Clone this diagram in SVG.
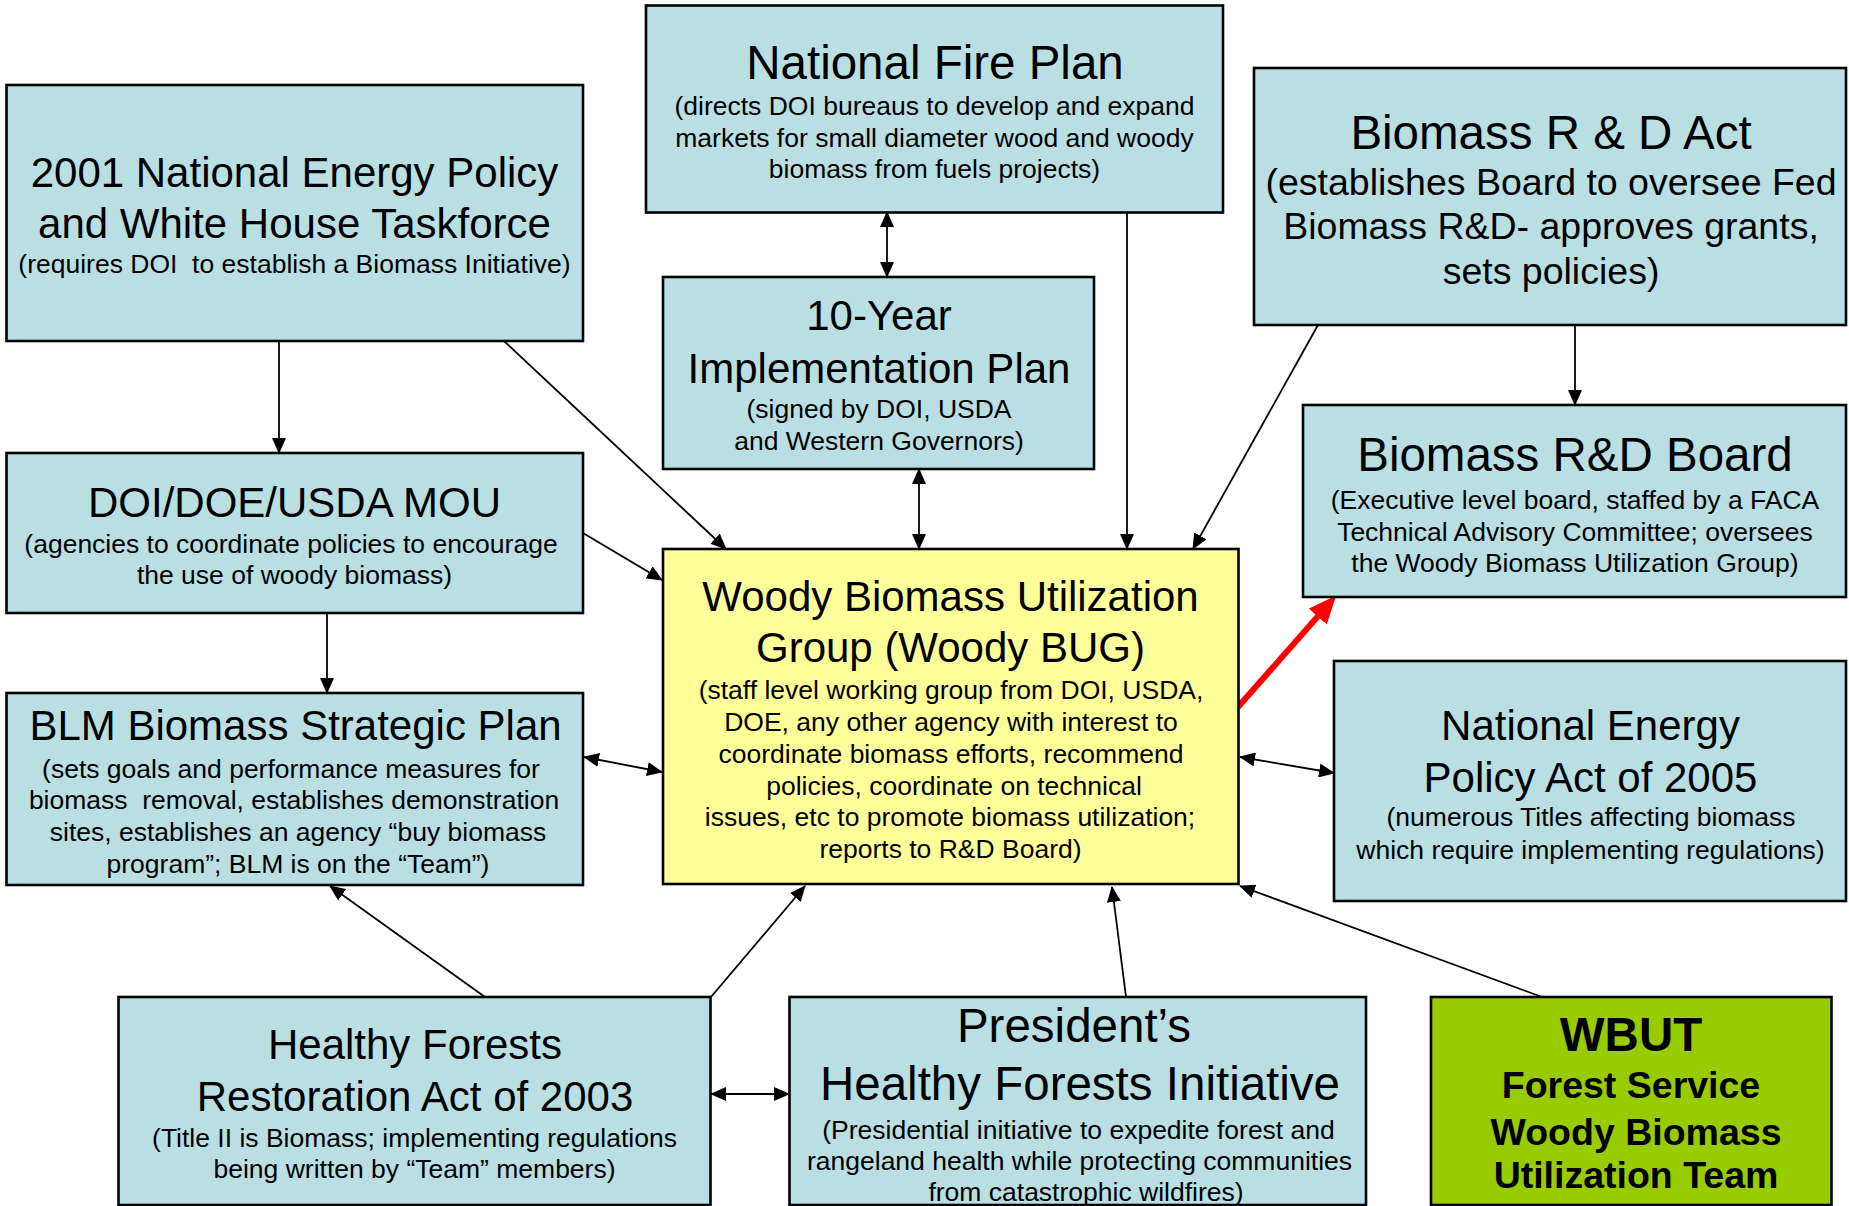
<svg xmlns="http://www.w3.org/2000/svg" width="1849" height="1206" viewBox="0 0 1849 1206">
<style>
.box{fill:#BADFE3;stroke:#000;stroke-width:2.6}
.yel{fill:#FFFF99;stroke:#000;stroke-width:2.6}
.grn{fill:#99CC00;stroke:#000;stroke-width:2.6}
text{font-family:"Liberation Sans",Arial,sans-serif;text-anchor:middle;fill:#000}
.h42{font-size:42px}
.h47{font-size:47.5px}
.s{font-size:26.5px}
.s37{font-size:37.5px}
.b{font-weight:bold}
.c{stroke:#000;stroke-width:1.8;fill:none}
.red{stroke:#FF0000;stroke-width:6;fill:none}
</style>
<defs>
<marker id="ah" markerUnits="userSpaceOnUse" markerWidth="16" markerHeight="14" viewBox="0 0 16 14" refX="15" refY="7" orient="auto-start-reverse">
<path d="M0,0 L16,7 L0,14 z" fill="#000"/>
</marker>
<marker id="rh" markerUnits="userSpaceOnUse" markerWidth="28" markerHeight="24" viewBox="0 0 28 24" refX="8" refY="12" orient="auto">
<path d="M0,0 L28,12 L0,24 z" fill="#FF0000"/>
</marker>
</defs>

<g id="connectors">
<line class="c" x1="279" y1="341" x2="279" y2="453" marker-end="url(#ah)"/>
<line class="c" x1="504" y1="341" x2="726" y2="549" marker-end="url(#ah)"/>
<line class="c" x1="583" y1="533" x2="662" y2="580" marker-end="url(#ah)"/>
<line class="c" x1="327" y1="613" x2="327" y2="693" marker-end="url(#ah)"/>
<line class="c" x1="584" y1="757" x2="662" y2="772" marker-start="url(#ah)" marker-end="url(#ah)"/>
<line class="c" x1="887" y1="212" x2="887" y2="277" marker-start="url(#ah)" marker-end="url(#ah)"/>
<line class="c" x1="919" y1="469" x2="919" y2="549" marker-start="url(#ah)" marker-end="url(#ah)"/>
<line class="c" x1="1127" y1="213" x2="1127" y2="549" marker-end="url(#ah)"/>
<line class="c" x1="1318" y1="325" x2="1193" y2="549" marker-end="url(#ah)"/>
<line class="c" x1="1575" y1="325" x2="1575" y2="405" marker-end="url(#ah)"/>
<line class="red" x1="1238" y1="707" x2="1323" y2="610.5" marker-end="url(#rh)"/>
<line class="c" x1="1240" y1="757" x2="1334" y2="773" marker-start="url(#ah)" marker-end="url(#ah)"/>
<line class="c" x1="1542" y1="997" x2="1240" y2="886" marker-end="url(#ah)"/>
<line class="c" x1="1126" y1="997" x2="1112" y2="887" marker-end="url(#ah)"/>
<line class="c" x1="711" y1="997" x2="805" y2="886" marker-end="url(#ah)"/>
<line class="c" x1="485" y1="997" x2="330" y2="886" marker-end="url(#ah)"/>
<line class="c" x1="711" y1="1094" x2="789" y2="1094" marker-start="url(#ah)" marker-end="url(#ah)"/>
</g>

<g id="nep2001">
<rect class="box" x="6.5" y="85" width="576.5" height="256"/>
<text class="h42" x="294.5" y="187">2001 National Energy Policy</text>
<text class="h42" x="294.5" y="238">and White House Taskforce</text>
<text class="s" x="294.5" y="273" xml:space="preserve">(requires DOI  to establish a Biomass Initiative)</text>
</g>

<g id="nfp">
<rect class="box" x="646" y="5.5" width="577" height="207"/>
<text class="h47" x="935" y="79">National Fire Plan</text>
<text class="s" x="934.5" y="115">(directs DOI bureaus to develop and expand</text>
<text class="s" x="934.5" y="147">markets for small diameter wood and woody</text>
<text class="s" x="934.5" y="178">biomass from fuels projects)</text>
</g>

<g id="tenyear">
<rect class="box" x="663" y="277" width="431" height="192"/>
<text class="h42" x="879" y="330">10-Year</text>
<text class="h42" x="879" y="383">Implementation Plan</text>
<text class="s" x="879" y="418">(signed by DOI, USDA</text>
<text class="s" x="879" y="450">and Western Governors)</text>
</g>

<g id="rdact">
<rect class="box" x="1254" y="68" width="592" height="257"/>
<text class="h47" x="1551" y="149">Biomass R &amp; D Act</text>
<text class="s37" x="1551" y="195">(establishes Board to oversee Fed</text>
<text class="s37" x="1551" y="239">Biomass R&amp;D- approves grants,</text>
<text class="s37" x="1551" y="284">sets policies)</text>
</g>

<g id="rdboard">
<rect class="box" x="1303" y="405" width="543" height="192"/>
<text class="h47" x="1575" y="471">Biomass R&amp;D Board</text>
<text class="s" x="1575" y="509">(Executive level board, staffed by a FACA</text>
<text class="s" x="1575" y="541">Technical Advisory Committee; oversees</text>
<text class="s" x="1575" y="572">the Woody Biomass Utilization Group)</text>
</g>

<g id="mou">
<rect class="box" x="6.5" y="453" width="576.5" height="160"/>
<text class="h42" x="294.5" y="517">DOI/DOE/USDA MOU</text>
<text class="s" x="291" y="553">(agencies to coordinate policies to encourage</text>
<text class="s" x="294.5" y="584">the use of woody biomass)</text>
</g>

<g id="blm">
<rect class="box" x="6.5" y="693" width="576.5" height="192"/>
<text class="h42" x="295.5" y="740">BLM Biomass Strategic Plan</text>
<text class="s" x="291" y="778">(sets goals and performance measures for</text>
<text class="s" x="294" y="809" xml:space="preserve">biomass  removal, establishes demonstration</text>
<text class="s" x="298" y="841">sites, establishes an agency “buy biomass</text>
<text class="s" x="298" y="873">program”; BLM is on the “Team”)</text>
</g>

<g id="woodybug">
<rect class="yel" x="663" y="549" width="575.5" height="335"/>
<text class="h42" x="950.5" y="611">Woody Biomass Utilization</text>
<text class="h42" x="950.5" y="662">Group (Woody BUG)</text>
<text class="s" x="951" y="699">(staff level working group from DOI, USDA,</text>
<text class="s" x="951" y="731">DOE, any other agency with interest to</text>
<text class="s" x="951" y="763">coordinate biomass efforts, recommend</text>
<text class="s" x="954" y="795">policies, coordinate on technical</text>
<text class="s" x="950" y="826">issues, etc to promote biomass utilization;</text>
<text class="s" x="950.5" y="858">reports to R&amp;D Board)</text>
</g>

<g id="nepa2005">
<rect class="box" x="1334" y="661" width="512" height="240"/>
<text class="h42" x="1590.5" y="740">National Energy</text>
<text class="h42" x="1590.5" y="792">Policy Act of 2005</text>
<text class="s" x="1591" y="826">(numerous Titles affecting biomass</text>
<text class="s" x="1590.5" y="859">which require implementing regulations)</text>
</g>

<g id="hfra">
<rect class="box" x="118.5" y="997" width="592" height="208"/>
<text class="h42" x="415" y="1059">Healthy Forests</text>
<text class="h42" x="415" y="1111">Restoration Act of 2003</text>
<text class="s" x="414.5" y="1147">(Title II is Biomass; implementing regulations</text>
<text class="s" x="414.5" y="1178">being written by “Team” members)</text>
</g>

<g id="phfi">
<rect class="box" x="789.5" y="997" width="576.5" height="208"/>
<text class="h47" x="1074" y="1042">President’s</text>
<text class="h47" x="1080" y="1100">Healthy Forests Initiative</text>
<text class="s" x="1078.5" y="1139">(Presidential initiative to expedite forest and</text>
<text class="s" x="1079.5" y="1170">rangeland health while protecting communities</text>
<text class="s" x="1086" y="1201">from catastrophic wildfires)</text>
</g>

<g id="wbut">
<rect class="grn" x="1431" y="997" width="400.5" height="208"/>
<text class="h47 b" x="1631" y="1051">WBUT</text>
<text class="s37 b" x="1631" y="1098">Forest Service</text>
<text class="s37 b" x="1636" y="1145">Woody Biomass</text>
<text class="s37 b" x="1636" y="1188">Utilization Team</text>
</g>
</svg>
